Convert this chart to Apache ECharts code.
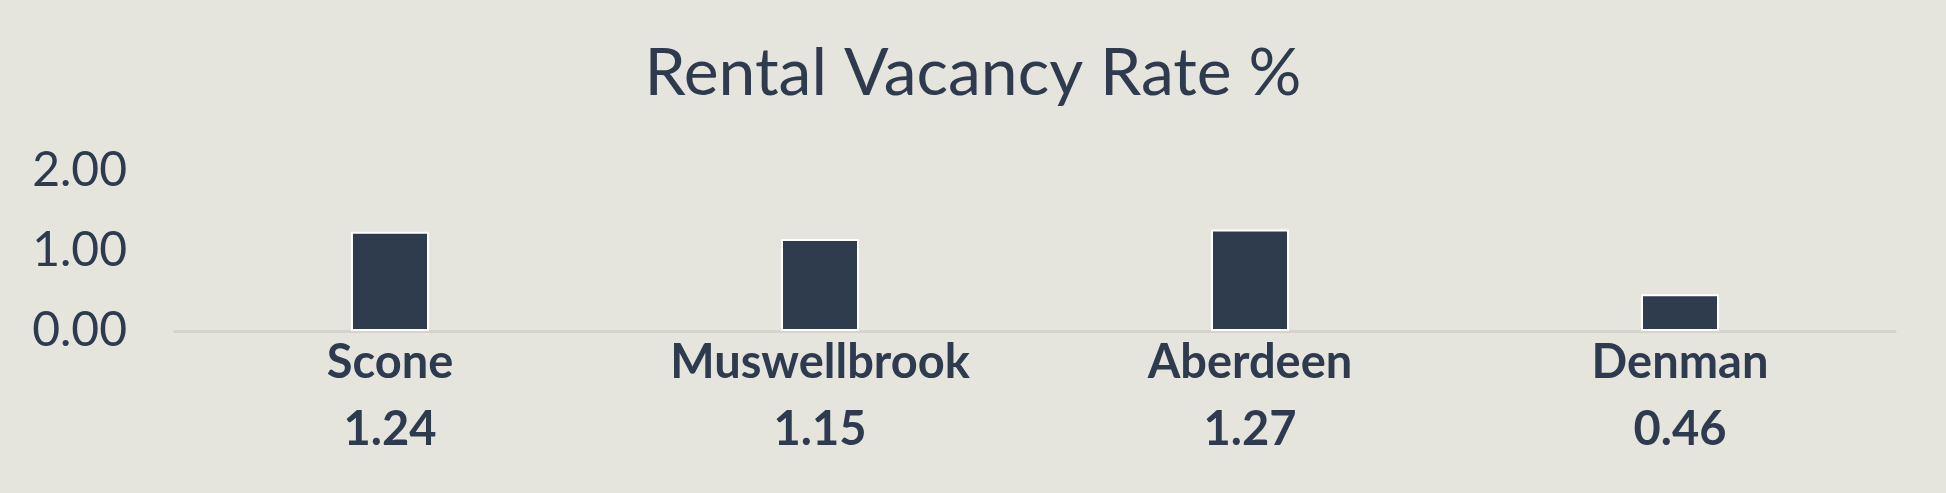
<!DOCTYPE html>
<html>
<head>
<meta charset="utf-8">
<script src="https://cdn.jsdelivr.net/npm/echarts@6/dist/echarts.min.js"></script>
<style>
html,body{margin:0;padding:0;background:#E5E4DD;}
#chart{width:1946px;height:493px;}
</style>
</head>
<body>
<div id="chart"></div>
<script>
const categories = ['Scone', 'Muswellbrook', 'Aberdeen', 'Denman'];
const values = [1.24, 1.15, 1.27, 0.46];
const yTicks = [0, 1, 2];
const titleText = 'Rental Vacancy Rate %';

const textColor = '#2E3B4E';
const chart = echarts.init(document.getElementById('chart'));
chart.setOption({
  backgroundColor: '#E5E4DD',
  animation: false,
  title: {
    text: titleText,
    left: 'center',
    top: 36,
    textStyle: { fontFamily: 'Lato', fontWeight: 'normal', fontSize: 66, color: textColor }
  },
  grid: { left: 175, right: 51, top: 171, bottom: 162, containLabel: false },
  xAxis: [{
    type: 'category',
    data: categories,
    axisLine: { show: true, lineStyle: { color: '#D4D3CC', width: 3 } },
    axisTick: { show: false },
    axisLabel: {
      margin: 32, verticalAlign: 'middle',
      fontFamily: 'Lato', fontWeight: 'bold', fontSize: 47, color: textColor
    }
  }, {
    type: 'category',
    data: categories,
    position: 'bottom',
    axisLine: { show: false },
    axisTick: { show: false },
    axisLabel: {
      margin: 99, verticalAlign: 'middle',
      fontFamily: 'Lato', fontWeight: 'bold', fontSize: 47, color: textColor,
      formatter: function (v, i) { return values[i].toFixed(2); }
    }
  }],
  yAxis: {
    type: 'value',
    min: yTicks[0],
    max: yTicks[yTicks.length - 1],
    interval: 1,
    axisLine: { show: false },
    axisTick: { show: false },
    splitLine: { show: false },
    axisLabel: {
      margin: 48,
      fontFamily: 'Lato', fontSize: 48, color: textColor,
      formatter: function (v) { return v.toFixed(2); }
    }
  },
  series: [{
    type: 'bar',
    data: values,
    barWidth: 78,
    itemStyle: { color: '#2F3C4E', borderColor: '#FFFFFF', borderWidth: 2 }
  }]
});
</script>
</body>
</html>
